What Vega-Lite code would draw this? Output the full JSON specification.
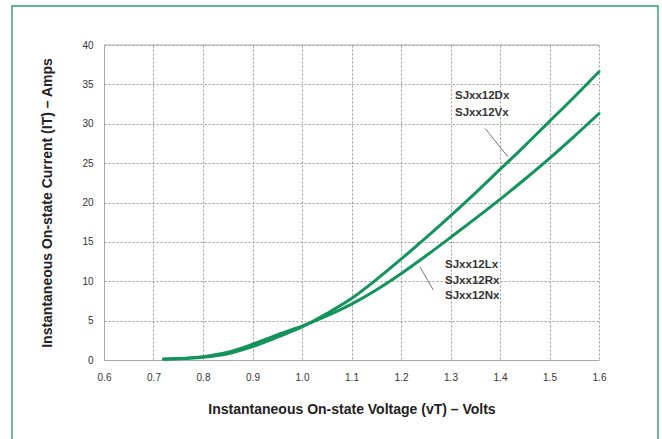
{
  "$schema": "https://vega.github.io/schema/vega-lite/v6.json",
  "autosize": "none",
  "width": 495,
  "height": 315,
  "padding": {"left": 104, "top": 45, "right": 63, "bottom": 79},
  "background": "white",
  "config": {
    "view": {"stroke": null},
    "font": "Liberation Sans"
  },
  "datasets": {
    "curves": [
      {"v": 0.72, "i": 0.1, "series": "SJxx12Dx/Vx"},
      {"v": 0.75, "i": 0.15, "series": "SJxx12Dx/Vx"},
      {"v": 0.8, "i": 0.35, "series": "SJxx12Dx/Vx"},
      {"v": 0.85, "i": 0.8, "series": "SJxx12Dx/Vx"},
      {"v": 0.9, "i": 1.7, "series": "SJxx12Dx/Vx"},
      {"v": 0.95, "i": 2.9, "series": "SJxx12Dx/Vx"},
      {"v": 1.0, "i": 4.2, "series": "SJxx12Dx/Vx"},
      {"v": 1.05, "i": 5.9, "series": "SJxx12Dx/Vx"},
      {"v": 1.1, "i": 7.8, "series": "SJxx12Dx/Vx"},
      {"v": 1.15, "i": 10.2, "series": "SJxx12Dx/Vx"},
      {"v": 1.2, "i": 12.8, "series": "SJxx12Dx/Vx"},
      {"v": 1.25, "i": 15.5, "series": "SJxx12Dx/Vx"},
      {"v": 1.3, "i": 18.3, "series": "SJxx12Dx/Vx"},
      {"v": 1.35, "i": 21.2, "series": "SJxx12Dx/Vx"},
      {"v": 1.4, "i": 24.2, "series": "SJxx12Dx/Vx"},
      {"v": 1.45, "i": 27.2, "series": "SJxx12Dx/Vx"},
      {"v": 1.5, "i": 30.3, "series": "SJxx12Dx/Vx"},
      {"v": 1.55, "i": 33.4, "series": "SJxx12Dx/Vx"},
      {"v": 1.6, "i": 36.6, "series": "SJxx12Dx/Vx"},
      {"v": 0.72, "i": 0.12, "series": "SJxx12Lx/Rx/Nx"},
      {"v": 0.75, "i": 0.18, "series": "SJxx12Lx/Rx/Nx"},
      {"v": 0.8, "i": 0.42, "series": "SJxx12Lx/Rx/Nx"},
      {"v": 0.85, "i": 0.98, "series": "SJxx12Lx/Rx/Nx"},
      {"v": 0.9, "i": 2.0, "series": "SJxx12Lx/Rx/Nx"},
      {"v": 0.95, "i": 3.2, "series": "SJxx12Lx/Rx/Nx"},
      {"v": 1.0, "i": 4.3, "series": "SJxx12Lx/Rx/Nx"},
      {"v": 1.05, "i": 5.6, "series": "SJxx12Lx/Rx/Nx"},
      {"v": 1.1, "i": 7.1, "series": "SJxx12Lx/Rx/Nx"},
      {"v": 1.15, "i": 8.9, "series": "SJxx12Lx/Rx/Nx"},
      {"v": 1.2, "i": 10.95, "series": "SJxx12Lx/Rx/Nx"},
      {"v": 1.25, "i": 13.2, "series": "SJxx12Lx/Rx/Nx"},
      {"v": 1.3, "i": 15.55, "series": "SJxx12Lx/Rx/Nx"},
      {"v": 1.35, "i": 17.95, "series": "SJxx12Lx/Rx/Nx"},
      {"v": 1.4, "i": 20.4, "series": "SJxx12Lx/Rx/Nx"},
      {"v": 1.45, "i": 22.95, "series": "SJxx12Lx/Rx/Nx"},
      {"v": 1.5, "i": 25.6, "series": "SJxx12Lx/Rx/Nx"},
      {"v": 1.55, "i": 28.4, "series": "SJxx12Lx/Rx/Nx"},
      {"v": 1.6, "i": 31.3, "series": "SJxx12Lx/Rx/Nx"}
    ],
    "labels": [
      {"v": 1.309, "i": 33.5, "text": "SJxx12Dx"},
      {"v": 1.309, "i": 31.4, "text": "SJxx12Vx"},
      {"v": 1.289, "i": 12.1, "text": "SJxx12Lx"},
      {"v": 1.289, "i": 10.0, "text": "SJxx12Rx"},
      {"v": 1.289, "i": 8.1, "text": "SJxx12Nx"}
    ],
    "leaders": [
      {"v": 1.370, "i": 29.4, "v2": 1.416, "i2": 25.8},
      {"v": 1.238, "i": 11.85, "v2": 1.265, "i2": 8.9}
    ],
    "frame": [
      {"v": 0.4141, "v2": 1.7192, "i": 44.95, "i2": -10.8}
    ]
  },
  "encoding": {
    "x": {
      "field": "v", "type": "quantitative",
      "scale": {"domain": [0.6, 1.6], "nice": false, "zero": false},
      "axis": {
        "values": [0.6, 0.7, 0.8, 0.9, 1.0, 1.1, 1.2, 1.3, 1.4, 1.5, 1.6],
        "format": ".1f",
        "title": "Instantaneous On-state Voltage (vT) – Volts",
        "titleFont": "Liberation Sans", "titleFontSize": 14, "titleFontWeight": "bold",
        "titleColor": "#222", "titlePadding": 20,
        "labelFont": "Liberation Sans", "labelFontSize": 10, "labelColor": "#333",
        "labelPadding": 12, "ticks": false, "domainColor": "#aaa", "domainWidth": 1,
        "grid": true, "gridColor": "#999", "gridDash": [2, 2], "gridWidth": 1,
        "labelFlush": false
      }
    },
    "y": {
      "field": "i", "type": "quantitative",
      "scale": {"domain": [0, 40], "nice": false},
      "axis": {
        "values": [0, 5, 10, 15, 20, 25, 30, 35, 40],
        "title": "Instantaneous On-state Current (IT) – Amps",
        "titleFont": "Liberation Sans", "titleFontSize": 14, "titleFontWeight": "bold",
        "titleColor": "#222", "titlePadding": 27,
        "labelFont": "Liberation Sans", "labelFontSize": 10, "labelColor": "#333",
        "labelPadding": 11, "ticks": false, "domainColor": "#aaa", "domainWidth": 1,
        "grid": true, "gridColor": "#999", "gridDash": [2, 2], "gridWidth": 1,
        "labelFlush": false
      }
    }
  },
  "layer": [
    {
      "data": {"name": "frame"},
      "mark": {"type": "rect", "fill": null, "stroke": "#2e9c6c", "strokeWidth": 1.4, "clip": false},
      "encoding": {
        "x2": {"field": "v2"},
        "y2": {"field": "i2"}
      }
    },
    {
      "data": {"values": [{"v": 0.6, "i": 40, "v2": 1.6}]},
      "mark": {"type": "rule", "color": "#aaa", "strokeWidth": 1},
      "encoding": {"x2": {"field": "v2"}}
    },
    {
      "data": {"name": "curves"},
      "mark": {"type": "line", "strokeWidth": 3, "interpolate": "monotone", "strokeCap": "round"},
      "encoding": {
        "detail": {"field": "series"},
        "color": {"value": "#13945a"}
      }
    },
    {
      "data": {"name": "leaders"},
      "mark": {"type": "rule", "color": "#555", "strokeWidth": 0.8},
      "encoding": {
        "x2": {"field": "v2"},
        "y2": {"field": "i2"}
      }
    },
    {
      "data": {"name": "labels"},
      "mark": {"type": "text", "align": "left", "baseline": "middle", "font": "Liberation Sans", "fontSize": 11.5, "fontWeight": "bold", "color": "#333"},
      "encoding": {
        "text": {"field": "text"}
      }
    }
  ]
}
